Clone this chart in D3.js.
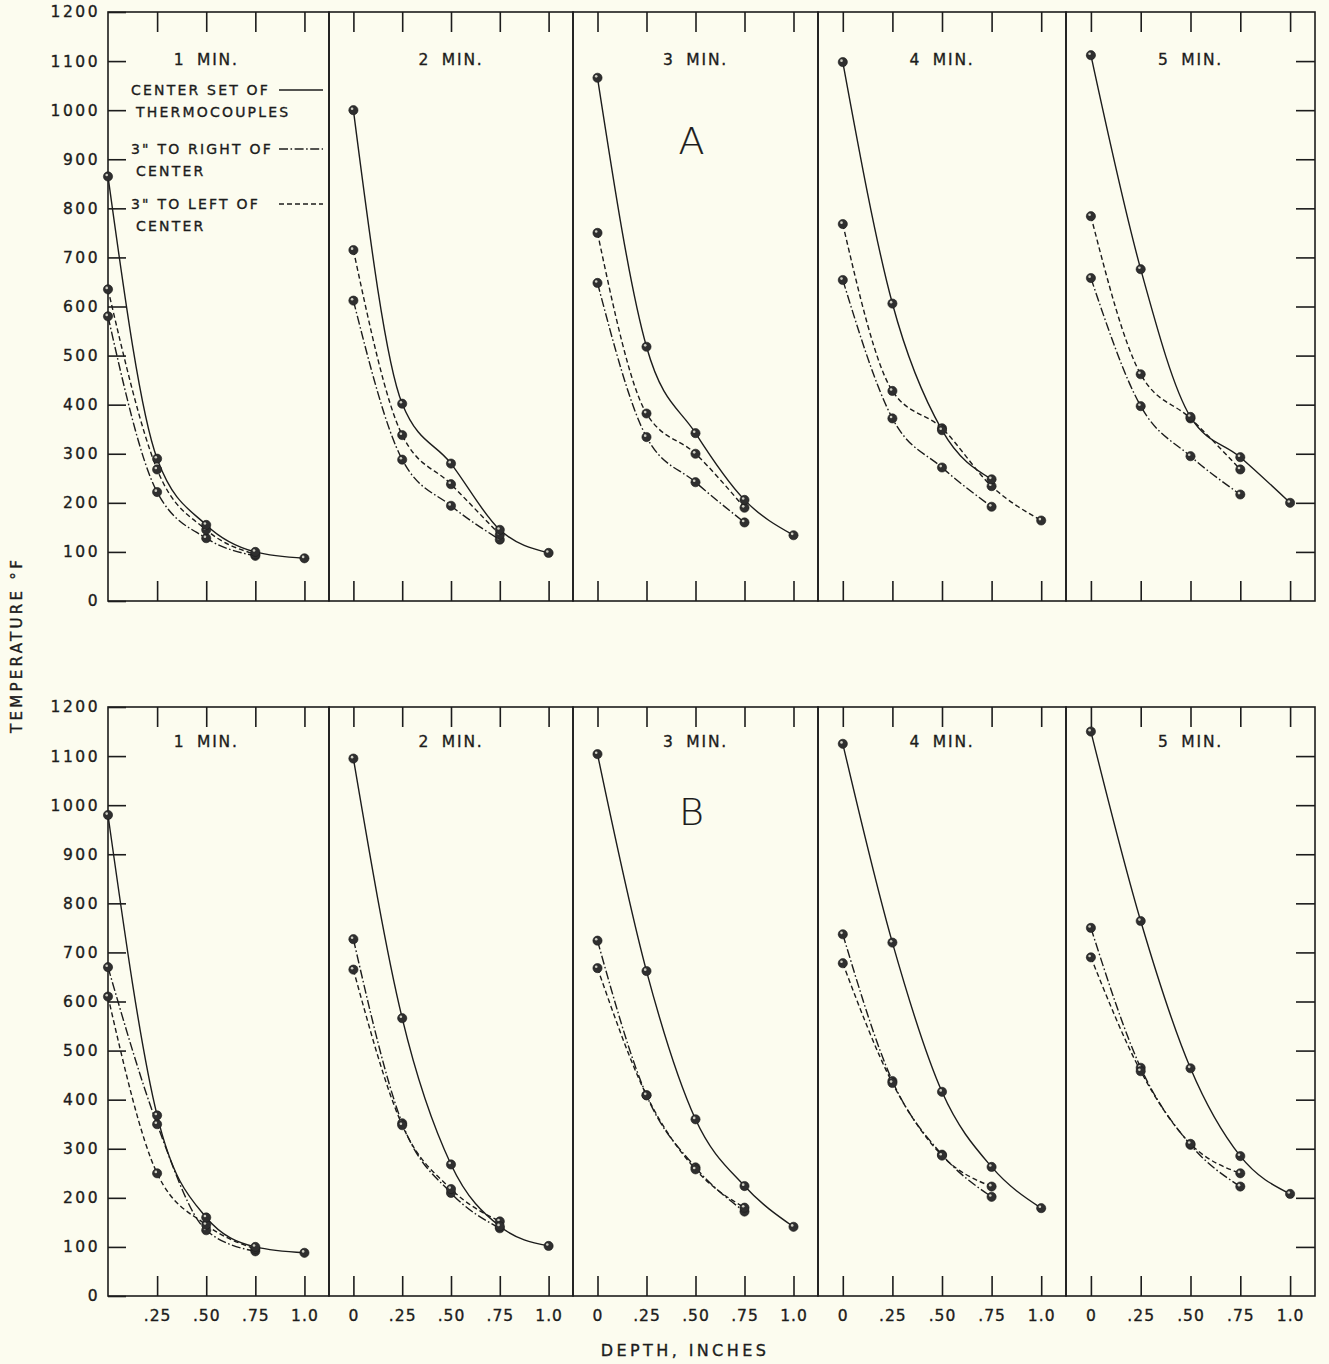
<!DOCTYPE html>
<html>
<head>
<meta charset="utf-8">
<script src="https://cdn.jsdelivr.net/npm/d3@7"></script>
<style>
  html, body { margin: 0; padding: 0; background: #fcfcef; }
  svg { display: block; }
  text { fill: #1c1c1c; stroke: #1c1c1c; stroke-width: 0.35px; font-family: "DejaVu Sans", sans-serif; }
</style>
</head>
<body>
<svg id="chart" width="1329" height="1364"></svg>
<script>
// ---------------------------------------------------------------------------
// Temperature vs depth, five exposure times, two test series (A, B).
// Three thermocouple sets per panel: center, 3" right, 3" left.
// ---------------------------------------------------------------------------

const DEPTHS = [0, 0.25, 0.5, 0.75, 1.0];
const DEPTH_LABELS = ["0", ".25", ".50", ".75", "1.0"];
const TEMP_TICKS = [0, 100, 200, 300, 400, 500, 600, 700, 800, 900, 1000, 1100, 1200];
const TEMP_LABELS = ["0", "100", "200", "300", "400", "500", "600", "700", "800", "900", "1000", "1100", "1200"];
const PANEL_TITLES = ["1 MIN.", "2 MIN.", "3 MIN.", "4 MIN.", "5 MIN."];
const ROW_LETTERS = ["A", "B"];

// Series A — °F at DEPTHS, one row per panel (1..5 min). Short rows stop early.
const A_CENTER = [
  [865, 290, 155, 100, 87],
  [1000, 402, 280, 145, 98],
  [1066, 518, 342, 206, 134],
  [1098, 606, 348, 248],
  [1112, 676, 375, 293, 200],
];
const A_RIGHT = [
  [580, 222, 128, 92],
  [612, 288, 194, 125],
  [648, 334, 242, 160],
  [654, 372, 272, 192],
  [658, 397, 295, 217],
];
const A_LEFT = [
  [635, 268, 145, 95],
  [715, 338, 238, 135],
  [750, 382, 300, 190],
  [768, 428, 352, 234, 164],
  [784, 462, 372, 268],
];

// Series B
const B_CENTER = [
  [980, 368, 160, 100, 88],
  [1095, 566, 268, 142, 102],
  [1104, 662, 360, 224, 141],
  [1125, 720, 416, 263, 179],
  [1150, 764, 464, 285, 208],
];
const B_RIGHT = [
  [670, 350, 134, 91],
  [727, 352, 210, 138],
  [724, 409, 262, 172],
  [737, 438, 288, 202],
  [750, 465, 308, 223],
];
const B_LEFT = [
  [610, 250, 145, 96],
  [665, 348, 218, 152],
  [668, 409, 258, 180],
  [678, 434, 286, 223],
  [690, 458, 310, 250],
];

const LEGEND = [
  { key: "center", lines: ["CENTER SET OF", "THERMOCOUPLES"] },
  { key: "right",  lines: ["3\" TO RIGHT OF", "CENTER"] },
  { key: "left",   lines: ["3\" TO LEFT OF", "CENTER"] },
];

// ----- layout --------------------------------------------------------------
const PANEL_EDGES = [108, 329, 573, 818, 1066, 1315];
const ROWS = [
  { top: 12,  bottom: 601,  titleDy: 48, center: A_CENTER, right: A_RIGHT, left: A_LEFT },
  { top: 707, bottom: 1296, titleDy: 35, center: B_CENTER, right: B_RIGHT, left: B_LEFT },
];
const INK = "#1c1c1c";
const DASH = { center: null, right: "9,2.5,1.6,2.5", left: "5,3" };

const svg = d3.select("#chart");

function styleAxis(g) {
  g.select(".domain").remove();
  g.selectAll(".tick line").attr("stroke", INK).attr("stroke-width", 1.6);
}

ROWS.forEach((row, r) => {
  const y = d3.scaleLinear().domain([0, 1200]).range([row.bottom, row.top]);
  const rowG = svg.append("g").attr("class", "row");

  PANEL_EDGES.slice(0, -1).forEach((x0, p) => {
    const x1 = PANEL_EDGES[p + 1];
    const x = d3.scaleLinear().domain([p === 0 ? 0 : -0.125, 1.125]).range([x0, x1]);
    const g = rowG.append("g").attr("class", "panel");
    const depthTicks = p === 0 ? DEPTHS.slice(1) : DEPTHS;

    // frame
    g.append("rect")
      .attr("x", x0).attr("y", row.top)
      .attr("width", x1 - x0).attr("height", row.bottom - row.top)
      .attr("fill", "none").attr("stroke", INK).attr("stroke-width", 1.6);

    // depth ticks hanging from the top and rising from the bottom
    g.append("g").attr("transform", `translate(0,${row.top})`)
      .call(d3.axisBottom(x).tickValues(depthTicks).tickSize(20).tickFormat(""))
      .call(styleAxis);
    g.append("g").attr("transform", `translate(0,${row.bottom})`)
      .call(d3.axisTop(x).tickValues(depthTicks).tickSize(20).tickFormat(""))
      .call(styleAxis);

    // depth labels only under the lower row
    if (r === 1) {
      g.append("g").attr("transform", `translate(0,${row.bottom})`)
        .call(d3.axisBottom(x).tickValues(depthTicks).tickSize(0).tickPadding(14)
          .tickFormat((d) => DEPTH_LABELS[DEPTHS.indexOf(d)]))
        .call(styleAxis)
        .selectAll("text")
          .attr("font-size", 15.5).attr("font-family", "DejaVu Sans Condensed, DejaVu Sans, sans-serif")
          .attr("fill", INK).style("letter-spacing", "1px");
    }

    // temperature ticks: left of the first panel, right of the last one
    if (p === 0) {
      g.append("g").attr("transform", `translate(${x0},0)`)
        .call(d3.axisLeft(y).tickValues(TEMP_TICKS).tickSizeInner(-18).tickSizeOuter(0).tickPadding(8)
          .tickFormat((d) => TEMP_LABELS[TEMP_TICKS.indexOf(d)]))
        .call(styleAxis)
        .selectAll("text")
          .attr("font-size", 15.5).attr("fill", INK).style("letter-spacing", "2.5px");
    }
    if (p === 4) {
      g.append("g").attr("transform", `translate(${x1},0)`)
        .call(d3.axisRight(y).tickValues(TEMP_TICKS.slice(1, -1)).tickSizeInner(-19).tickSizeOuter(0).tickFormat(""))
        .call(styleAxis);
    }

    // panel title
    g.append("text")
      .attr("x", x(0.5)).attr("y", row.top + row.titleDy + 5)
      .attr("text-anchor", "middle")
      .attr("font-size", 15.5)
      .style("letter-spacing", "1.8px").style("word-spacing", "5px")
      .text(PANEL_TITLES[p]);

    // curves + points
    const line = d3.line()
      .x((d, i) => x(DEPTHS[i]))
      .y((d) => y(d))
      .curve(d3.curveMonotoneX);

    ["right", "left", "center"].forEach((key) => {
      const vals = row[key][p];
      g.append("path")
        .attr("d", line(vals))
        .attr("fill", "none")
        .attr("stroke", INK)
        .attr("stroke-width", 1.4)
        .attr("stroke-dasharray", DASH[key]);
    });

    ["right", "left", "center"].forEach((key) => {
      const vals = row[key][p];
      const dots = g.selectAll(null).data(vals).enter().append("g")
        .attr("transform", (d, i) => `translate(${x(DEPTHS[i])},${y(d)})`);
      dots.append("circle").attr("r", 4.6).attr("fill", "#2f2f2f").attr("stroke", "#1a1a1a").attr("stroke-width", 0.6);
      dots.append("circle").attr("r", 1.3).attr("cx", -1.3).attr("cy", -1.4).attr("fill", "#cfcfc4");
    });

    // big series letter in the middle panel
    if (p === 2) {
      g.append("text")
        .attr("x", x(0.5) - 4).attr("y", row.top + (r === 0 ? 142 : 118))
        .attr("text-anchor", "middle")
        .attr("font-size", 38)
        .attr("font-family", "Lato, 'Open Sans', sans-serif")
        .attr("font-weight", 300)
        .style("stroke-width", "0.2px")
        .text(ROW_LETTERS[r]);
    }

    // legend lives in the first panel of series A
    if (r === 0 && p === 0) {
      const leg = g.append("g").attr("class", "legend");
      LEGEND.forEach((item, k) => {
        const cy = row.top + [78, 137, 192][k];
        leg.append("text")
          .attr("x", x0 + 23).attr("y", cy + 5)
          .attr("font-size", 14).style("letter-spacing", "2.2px")
          .text(item.lines[0]);
        leg.append("text")
          .attr("x", x0 + 28).attr("y", cy + 27)
          .attr("font-size", 14).style("letter-spacing", "2.2px")
          .text(item.lines[1]);
        leg.append("line")
          .attr("x1", x0 + 171).attr("x2", x0 + 215)
          .attr("y1", cy).attr("y2", cy)
          .attr("stroke", INK).attr("stroke-width", 1.4)
          .attr("stroke-dasharray", DASH[item.key]);
      });
    }
  });
});

// axis titles
svg.append("text")
  .attr("transform", "translate(22,645) rotate(-90)")
  .attr("text-anchor", "middle")
  .attr("font-size", 15)
  .style("letter-spacing", "3.3px")
  .text("TEMPERATURE °F");

svg.append("text")
  .attr("x", 685).attr("y", 1356)
  .attr("text-anchor", "middle")
  .attr("font-size", 16)
  .attr("font-family", "DejaVu Sans Condensed, DejaVu Sans, sans-serif")
  .style("letter-spacing", "3.4px")
  .text("DEPTH, INCHES");
</script>
</body>
</html>
